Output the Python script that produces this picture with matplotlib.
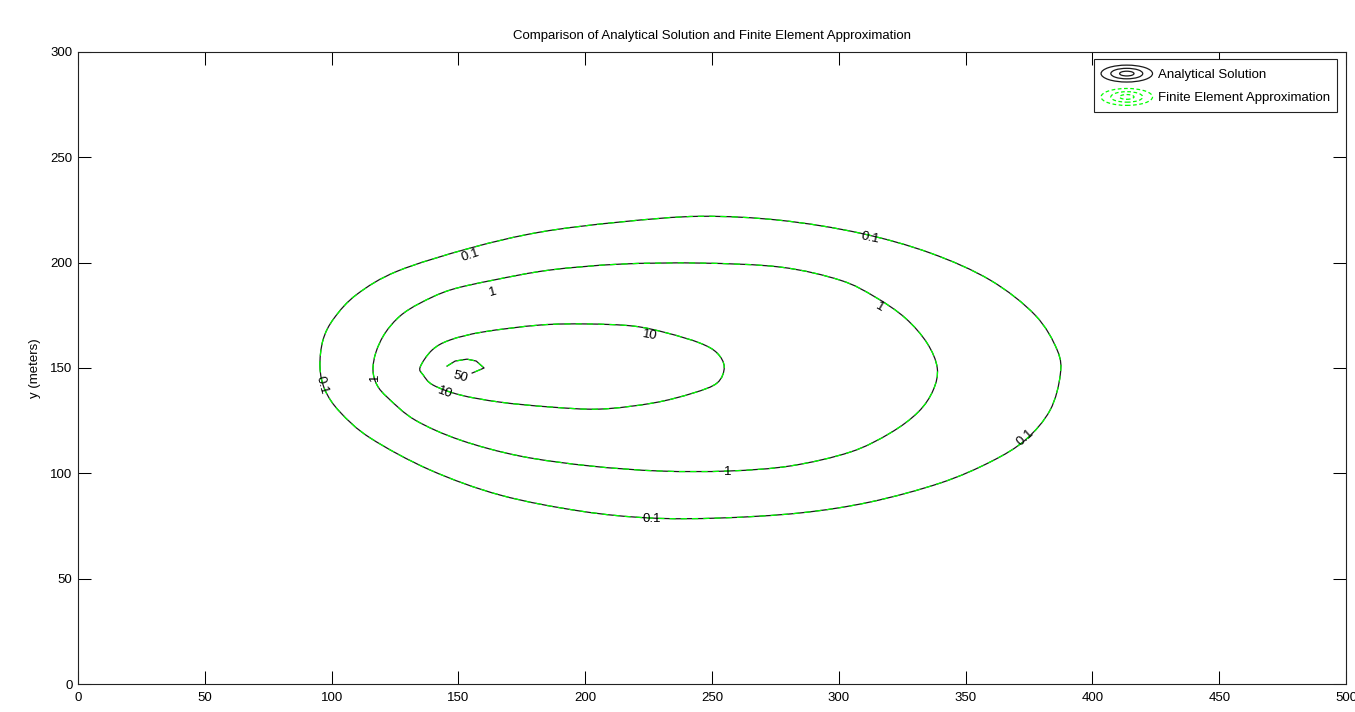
import matplotlib
matplotlib.use("Agg")
import matplotlib.pyplot as plt
import numpy as np
from matplotlib.path import Path
from matplotlib.patches import PathPatch, Ellipse
from matplotlib.legend_handler import HandlerBase
from matplotlib.lines import Line2D

plt.rcParams["font.family"] = ["Liberation Sans", "DejaVu Sans"]

# contour lines (x, y in meters)
ana_x_01 = [95.4, 96.6, 101.0, 110.0, 126.0, 154.6, 182.2, 213.8, 245.3, 276.9,
            308.4, 336.0, 359.7, 377.4, 386.1, 387.3, 383.3, 373.5, 359.7, 340.0,
            312.4, 284.7, 253.2, 225.6, 198.0, 166.4, 138.8, 115.2, 103.3, 97.4]
ana_y_01 = [150.4, 163.3, 173.7, 185.0, 196.0, 206.9, 214.5, 219.3, 222.0, 220.1,
            214.0, 204.6, 191.7, 175.1, 158.5, 146.7, 130.0, 115.8, 105.4, 95.4,
            86.4, 81.2, 78.8, 78.8, 82.1, 89.7, 101.6, 116.8, 129.1, 139.5]

ana_x_1 = [116.3, 117.5, 121.1, 127.0, 134.9, 146.7, 163.7, 186.1, 213.8, 245.3,
           276.9, 300.5, 314.3, 326.2, 334.8, 338.8, 337.2, 331.3, 320.2, 304.5,
           280.8, 256.3, 229.5, 201.9, 174.3, 150.7, 132.9, 122.3, 117.9]
ana_y_1 = [149.0, 157.6, 166.6, 174.7, 180.8, 187.0, 191.7, 196.5, 199.3, 199.8,
           197.9, 191.7, 183.7, 173.7, 161.8, 150.0, 139.5, 129.1, 119.1, 110.1,
           103.5, 101.1, 101.1, 103.5, 108.2, 115.8, 125.3, 135.7, 141.9]

ana_x_10 = [134.9, 139.6, 146.7, 159.7, 182.2, 200.7, 218.9, 232.3, 245.3, 252.0,
            254.8, 252.0, 242.5, 226.8, 205.9, 186.1, 166.4, 150.7, 140.0, 136.1]
ana_y_10 = [150.4, 158.5, 163.3, 167.1, 170.4, 170.9, 169.9, 166.6, 161.8, 157.1,
            150.4, 142.9, 138.1, 133.4, 130.5, 131.5, 133.8, 137.2, 141.9, 146.7]

# the 50 contour is only a small open hook
ana_x_50 = [145.5, 148.7, 153.4, 157.0, 160.1, 155.4]
ana_y_50 = [150.9, 153.3, 154.2, 153.3, 150.0, 147.6]

# finite element contours sit on top of the analytical ones
fe_x_01, fe_y_01 = list(ana_x_01), list(ana_y_01)
fe_x_1, fe_y_1 = list(ana_x_1), list(ana_y_1)
fe_x_10, fe_y_10 = list(ana_x_10), list(ana_y_10)
fe_x_50, fe_y_50 = list(ana_x_50), list(ana_y_50)

# inline contour labels: text, x, y, rotation
label_text = ["0.1", "0.1", "0.1", "0.1", "0.1", "1", "1", "1", "1", "10", "10", "50"]
label_x = [154.6, 312.4, 373.5, 226.4, 96.2, 163.7, 316.3, 117.1, 256.3, 225.6, 144.7, 150.7]
label_y = [203.6, 211.7, 117.2, 78.3, 141.9, 186.0, 178.9, 145.7, 100.6, 165.6, 138.1, 145.7]
label_rot = [18, -12, 42, 0, -75, 15, -30, 90, 0, -10, -20, -15]

GREEN = "#00ff00"
DARK = "#1a1a1a"
FS = 9.5


def closed_smooth_path(xs, ys):
    # Catmull-Rom through the read points, as cubic Bezier segments
    pts = np.column_stack([xs, ys])
    n = len(pts)
    verts = [pts[0]]
    codes = [Path.MOVETO]
    for i in range(n):
        p0, p1, p2, p3 = pts[i - 1], pts[i], pts[(i + 1) % n], pts[(i + 2) % n]
        verts += [p1 + (p2 - p0) / 6, p2 - (p3 - p1) / 6, p2]
        codes += [Path.CURVE4] * 3
    return Path(verts, codes)


class ContourHandler(HandlerBase):
    def __init__(self, color, ls):
        super().__init__()
        self.color = color
        self.ls = ls

    def create_artists(self, legend, orig_handle, xdescent, ydescent, width,
                       height, fontsize, trans):
        cx = width / 2 - xdescent
        cy = height / 2 - ydescent
        arts = []
        for s in (1.0, 0.62, 0.28):
            arts.append(Ellipse((cx, cy), width * s, height * 1.05 * s, fill=False,
                                edgecolor=self.color, linestyle=self.ls, lw=0.9,
                                transform=trans))
        return arts


fig = plt.figure(figsize=(13.55, 7.12), dpi=100)
ax = fig.add_axes([0.0576, 0.0393, 0.9358, 0.8877])

for xs, ys in [(ana_x_01, ana_y_01), (ana_x_1, ana_y_1), (ana_x_10, ana_y_10)]:
    ax.add_patch(PathPatch(closed_smooth_path(xs, ys), fill=False,
                           edgecolor=DARK, lw=0.9, zorder=2))
ax.plot(ana_x_50, ana_y_50, color=DARK, lw=0.9, zorder=2)

for xs, ys in [(fe_x_01, fe_y_01), (fe_x_1, fe_y_1), (fe_x_10, fe_y_10)]:
    ax.add_patch(PathPatch(closed_smooth_path(xs, ys), fill=False,
                           edgecolor=GREEN, lw=0.9, linestyle=(0, (5, 4)), zorder=3))
ax.plot(fe_x_50, fe_y_50, color=GREEN, lw=0.9, linestyle=(0, (5, 4)), zorder=3)

for t, x, y, r in zip(label_text, label_x, label_y, label_rot):
    ax.text(x, y, t, rotation=r, fontsize=FS, ha="center", va="center",
            rotation_mode="anchor", color="black", zorder=4)

ax.set_xlim(0, 500)
ax.set_ylim(0, 300)
ax.set_xticks(np.arange(0, 501, 50))
ax.set_yticks(np.arange(0, 301, 50))
ax.tick_params(direction="in", length=9.5, width=0.75, top=True, right=True,
               labelsize=FS, colors="black")
ax.tick_params(axis="x", pad=6)
ax.tick_params(axis="y", pad=4)
for sp in ax.spines.values():
    sp.set_linewidth(0.8)
    sp.set_color("#222222")

ax.set_title("Comparison of Analytical Solution and Finite Element Approximation",
             fontsize=FS, pad=9)
ax.set_ylabel("y (meters)", fontsize=FS)
ax.yaxis.set_label_coords(-0.029, 0.5)

h_ana = Line2D([], [], color=DARK)
h_fe = Line2D([], [], color=GREEN)
leg = ax.legend([h_ana, h_fe], ["Analytical Solution", "Finite Element Approximation"],
                handler_map={h_ana: ContourHandler(DARK, "-"),
                             h_fe: ContourHandler(GREEN, (0, (3, 2)))},
                loc="upper right", bbox_to_anchor=(0.993, 0.989), borderaxespad=0,
                fontsize=FS, handlelength=3.9, handleheight=1.5, handletextpad=0.45,
                labelspacing=0.55, borderpad=0.5, fancybox=False, framealpha=1)
leg.get_frame().set_edgecolor("#222222")
leg.get_frame().set_linewidth(0.8)

fig.savefig("out.png", dpi=100)
